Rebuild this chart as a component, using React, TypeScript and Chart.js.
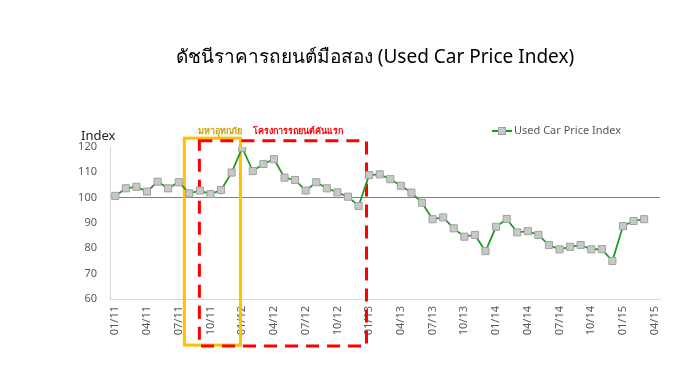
import React, { useEffect, useRef } from 'react';
import { Chart, registerables } from 'chart.js';

Chart.register(...registerables);

const chartTitle = 'ดัชนีราคารถยนต์มือสอง (Used Car Price Index)';
const seriesName = 'Used Car Price Index';
const yAxisTitle = 'Index';
const floodLabel = 'มหาอุทกภัย';
const firstCarLabel = 'โครงการรถยนต์คันแรก';

const categories = [
  '01/11', '02/11', '03/11', '04/11', '05/11', '06/11', '07/11', '08/11', '09/11', '10/11', '11/11', '12/11',
  '01/12', '02/12', '03/12', '04/12', '05/12', '06/12', '07/12', '08/12', '09/12', '10/12', '11/12', '12/12',
  '01/13', '02/13', '03/13', '04/13', '05/13', '06/13', '07/13', '08/13', '09/13', '10/13', '11/13', '12/13',
  '01/14', '02/14', '03/14', '04/14', '05/14', '06/14', '07/14', '08/14', '09/14', '10/14', '11/14', '12/14',
  '01/15', '02/15', '03/15', '04/15',
];

const usedCarIndex: (number | null)[] = [
  100.7, 103.7, 104.3, 102.4, 106.3, 103.7, 106.1, 101.7, 102.8, 101.4, 103.0, 109.9,
  119.7, 110.5, 113.3, 115.2, 107.9, 107.0, 102.8, 106.1, 103.7, 102.1, 100.4, 96.7,
  108.9, 109.2, 107.3, 104.7, 102.0, 98.0, 91.5, 92.2, 87.9, 84.6, 85.3, 78.9,
  88.5, 91.6, 86.3, 86.8, 85.3, 81.3, 79.6, 80.6, 81.3, 79.6, 79.7, 75.0,
  88.8, 90.8, 91.5, null,
];

const yMin = 60;
const yMax = 120;
const yStep = 10;
const referenceLevel = 100;

// annotation boxes in data coordinates (category index, index value)
const floodBox = { x0: 6.53, x1: 11.83, y0: 123.5, y1: 41.8 };
const firstCarBox = { x0: 7.95, x1: 23.75, y0: 122.5, y1: 41.4 };

const FONT = '"Noto Sans", "Open Sans", "DejaVu Sans", sans-serif';

const overlayPlugin = {
  id: 'overlay',
  beforeDatasetsDraw(chart: any) {
    const { ctx, scales } = chart;
    const xs = scales.x;
    const ys = scales.y;
    ctx.save();
    ctx.strokeStyle = '#FFC000';
    ctx.lineWidth = 3;
    ctx.setLineDash([]);
    const fx0 = xs.getPixelForValue(floodBox.x0);
    const fx1 = xs.getPixelForValue(floodBox.x1);
    const fy0 = ys.getPixelForValue(floodBox.y0);
    const fy1 = ys.getPixelForValue(floodBox.y1);
    ctx.strokeRect(fx0, fy0, fx1 - fx0, fy1 - fy0);
    ctx.strokeStyle = '#FF0000';
    ctx.setLineDash([13, 8]);
    const rx0 = xs.getPixelForValue(firstCarBox.x0);
    const rx1 = xs.getPixelForValue(firstCarBox.x1);
    const ry0 = ys.getPixelForValue(firstCarBox.y0);
    const ry1 = ys.getPixelForValue(firstCarBox.y1);
    ctx.strokeRect(rx0, ry0, rx1 - rx0, ry1 - ry0);
    ctx.setLineDash([]);
    ctx.restore();
  },
  afterDraw(chart: any) {
    const { ctx, scales } = chart;
    const xs = scales.x;
    ctx.save();
    ctx.fillStyle = '#000000';
    ctx.font = `19px ${FONT}`;
    ctx.textAlign = 'center';
    ctx.textBaseline = 'middle';
    ctx.fillText(chartTitle, 375, 58);
    ctx.fillStyle = '#222222';
    ctx.font = `13px ${FONT}`;
    ctx.textAlign = 'left';
    ctx.fillText(yAxisTitle, 81, 136);
    ctx.font = `bold 9px ${FONT}`;
    ctx.fillStyle = '#C9A000';
    ctx.fillText(floodLabel, xs.getPixelForValue(7.8), 131);
    ctx.fillStyle = '#FF0000';
    ctx.fillText(firstCarLabel, xs.getPixelForValue(13.0), 131);
    const ly = 131;
    ctx.strokeStyle = '#1A9A1A';
    ctx.lineWidth = 2;
    ctx.beginPath();
    ctx.moveTo(492, ly);
    ctx.lineTo(512, ly);
    ctx.stroke();
    ctx.fillStyle = '#C8C8C8';
    ctx.strokeStyle = '#A0A0A0';
    ctx.lineWidth = 1;
    ctx.fillRect(498.5, ly - 3.5, 7, 7);
    ctx.strokeRect(498.5, ly - 3.5, 7, 7);
    ctx.fillStyle = '#595959';
    ctx.font = `11px ${FONT}`;
    ctx.fillText(seriesName, 514, ly);
    ctx.restore();
  },
};

const bgPlugin = {
  id: 'bg',
  beforeDraw(chart: any) {
    const { ctx, width, height } = chart;
    ctx.save();
    ctx.fillStyle = '#ffffff';
    ctx.fillRect(0, 0, width, height);
    ctx.restore();
  },
};

export default function App() {
  const ref = useRef<HTMLCanvasElement | null>(null);
  useEffect(() => {
    if (!ref.current) return;
    const chart = new Chart(ref.current, {
      type: 'line',
      data: {
        labels: categories,
        datasets: [
          {
            label: seriesName,
            data: usedCarIndex,
            borderColor: '#1A9A1A',
            borderWidth: 1.75,
            backgroundColor: '#C8C8C8',
            pointStyle: 'rect',
            pointRadius: 5,
            pointBorderColor: '#A0A0A0',
            pointBorderWidth: 1,
            pointBackgroundColor: '#C8C8C8',
            tension: 0,
            fill: false,
          },
        ],
      },
      options: {
        responsive: false,
        animation: false,
        events: [],
        layout: { padding: { left: 0, right: 22, top: 147, bottom: 0 } },
        plugins: {
          legend: { display: false },
          title: { display: false },
          tooltip: { enabled: false },
        },
        scales: {
          x: {
            type: 'category',
            offset: true,
            grid: { display: false, drawTicks: false },
            border: { display: true, color: '#D9D9D9', width: 1 },
            ticks: {
              autoSkip: false,
              maxRotation: 90,
              minRotation: 90,
              padding: 7,
              color: '#595959',
              font: { family: FONT, size: 11 },
              callback: (_v: any, i: number) => (i % 3 === 0 ? categories[i] : ''),
            },
            afterFit: (s: any) => {
              s.height = 81;
            },
          },
          y: {
            min: yMin,
            max: yMax,
            grid: {
              drawTicks: false,
              color: (c: any) => (c.tick && c.tick.value === referenceLevel ? '#7F7F7F' : 'rgba(0,0,0,0)'),
              lineWidth: 1,
            },
            border: { display: true, color: '#D9D9D9', width: 1 },
            ticks: {
              stepSize: yStep,
              padding: 13,
              color: '#595959',
              font: { family: FONT, size: 11 },
            },
            afterFit: (s: any) => {
              s.width = 110;
            },
          },
        },
      },
      plugins: [bgPlugin, overlayPlugin],
    });
    return () => chart.destroy();
  }, []);
  return (
    <div style={{ position: 'absolute', left: 0, top: 0, width: 682, height: 380, background: '#fff' }}>
      <canvas ref={ref} width={682} height={380} />
    </div>
  );
}
